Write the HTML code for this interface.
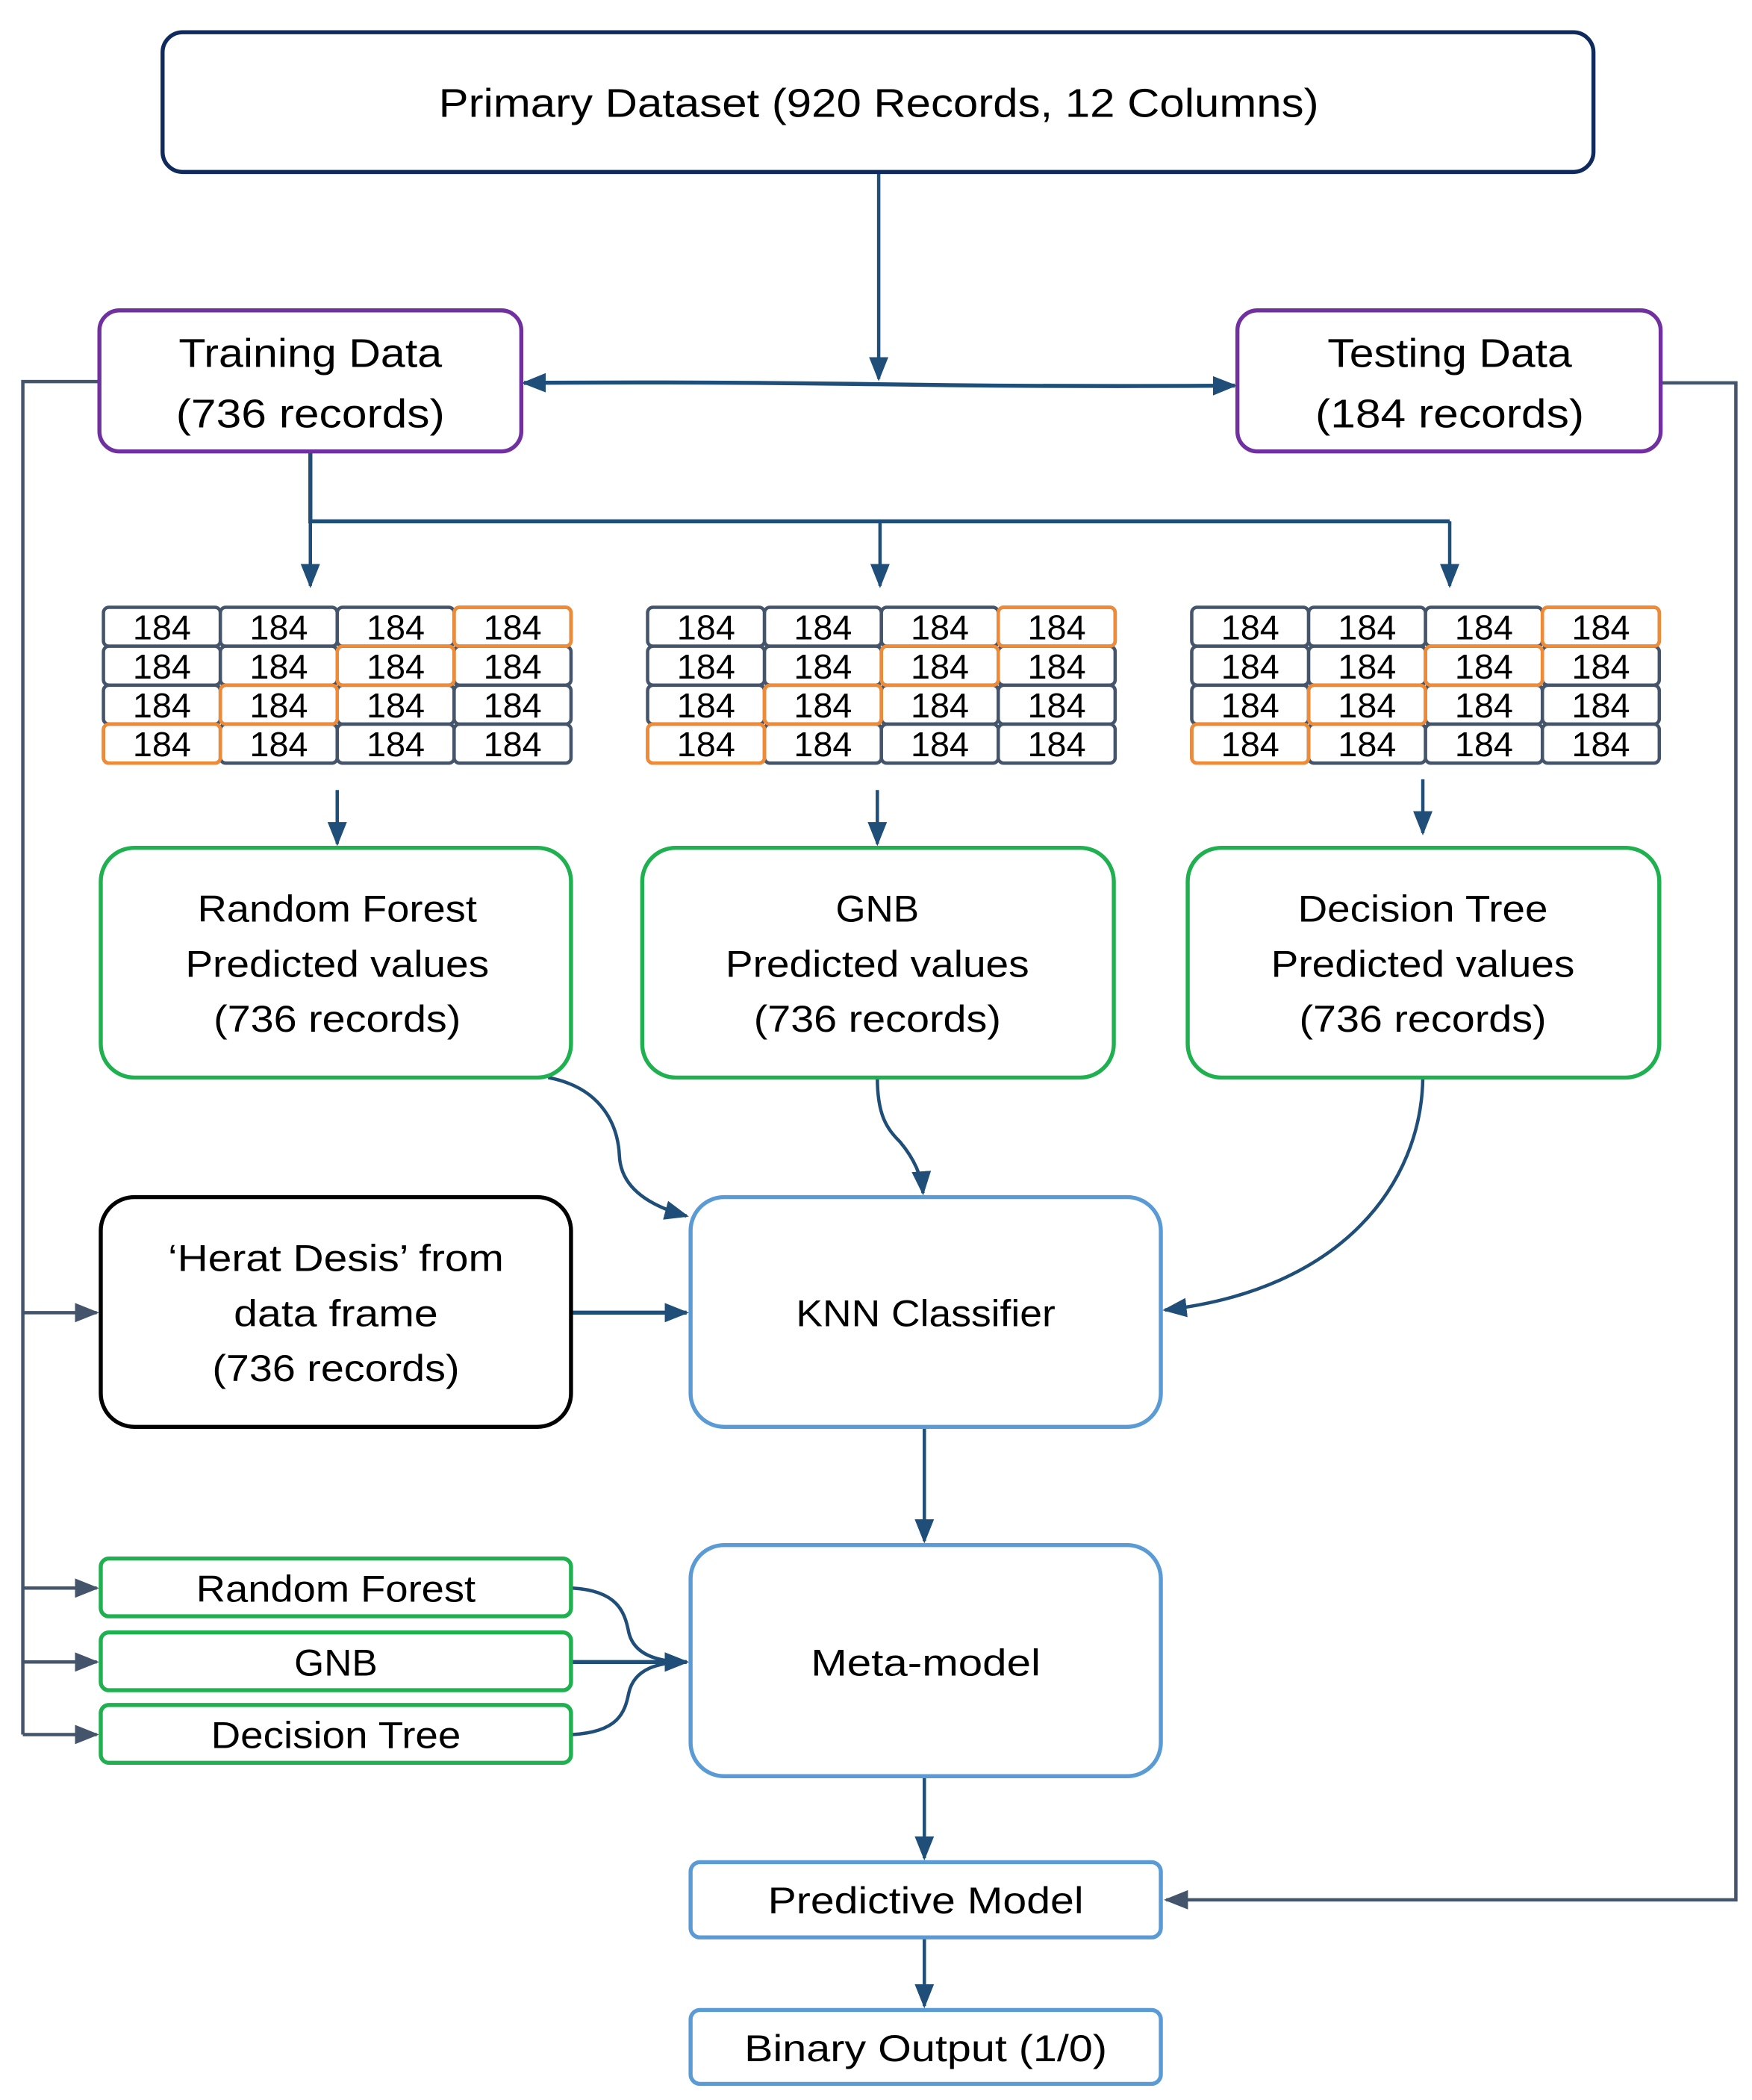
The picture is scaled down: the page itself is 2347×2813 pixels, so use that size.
<!DOCTYPE html>
<html><head><meta charset="utf-8"><style>html,body{margin:0;padding:0;background:#fff}svg{display:block}</style></head>
<body>
<svg width="2347" height="2813" viewBox="0 0 1304 1563" preserveAspectRatio="none" xmlns="http://www.w3.org/2000/svg" font-family="'Liberation Sans', sans-serif" fill="#000">
<defs>
<marker id="m" viewBox="0 0 10 10" refX="9" refY="5" markerWidth="18" markerHeight="18" orient="auto-start-reverse" markerUnits="userSpaceOnUse"><path d="M0,1 L10,5 L0,9 z" fill="#1f4e79"/></marker>
<marker id="g" viewBox="0 0 10 10" refX="9" refY="5" markerWidth="18" markerHeight="18" orient="auto-start-reverse" markerUnits="userSpaceOnUse"><path d="M0,1 L10,5 L0,9 z" fill="#44546a"/></marker>
</defs>
<g fill="none" stroke="#1f4e79" stroke-width="2.5">
<path d="M654,128 V282" marker-end="url(#m)"/>
<path d="M390,285 Q520,284 654,286 Q790,288 919,287" marker-start="url(#m)" marker-end="url(#m)" stroke-width="3"/>
<path d="M231,336 V388 H1079" stroke-width="3"/>
<path d="M231,388 V436" marker-end="url(#m)"/>
<path d="M655,388 V436" marker-end="url(#m)"/>
<path d="M1079,388 V436" marker-end="url(#m)"/>
<path d="M251,588 V628" marker-end="url(#m)"/>
<path d="M653,588 V628" marker-end="url(#m)"/>
<path d="M1059,580 V620" marker-end="url(#m)"/>
<path d="M408,802 C450,810 460,840 461,860 C462,885 485,898 511,905" marker-end="url(#m)"/>
<path d="M653,802 C653,830 660,840 670,850 C680,862 686,875 687,888" marker-end="url(#m)"/>
<path d="M1059,802 C1058,880 1000,960 867,975" marker-end="url(#m)"/>
<path d="M426,977 H511" marker-end="url(#m)" stroke-width="3"/>
<path d="M688,1062 V1147" marker-end="url(#m)"/>
<path d="M426,1182 C460,1184 465,1200 468,1215 C472,1232 490,1237 511,1237" marker-end="url(#m)"/>
<path d="M426,1237 H511" marker-end="url(#m)" stroke-width="3"/>
<path d="M426,1291 C460,1289 465,1275 468,1260 C472,1242 490,1237 511,1237"/>
<path d="M688,1322 V1383" marker-end="url(#m)"/>
<path d="M688,1442 V1493" marker-end="url(#m)"/>
</g>
<g fill="none" stroke="#44546a" stroke-width="2.5">
<path d="M74,284 H17 V1291"/>
<path d="M17,977 H72" marker-end="url(#g)"/>
<path d="M17,1182 H72" marker-end="url(#g)"/>
<path d="M17,1237 H72" marker-end="url(#g)"/>
<path d="M17,1291 H72" marker-end="url(#g)"/>
<path d="M1236,285 H1292 V1414 H868" marker-end="url(#g)"/>
</g>
<g fill="#fff" stroke-width="3">
<rect x="121" y="24" width="1065" height="104" rx="15" stroke="#0f2a5c"/>
<rect x="74" y="231" width="314" height="105" rx="15" stroke="#7030a0"/>
<rect x="921" y="231" width="315" height="105" rx="15" stroke="#7030a0"/>
<rect x="75" y="631" width="350" height="171" rx="25" stroke="#1fb04f"/>
<rect x="478" y="631" width="351" height="171" rx="25" stroke="#1fb04f"/>
<rect x="884" y="631" width="351" height="171" rx="25" stroke="#1fb04f"/>
<rect x="75" y="891" width="350" height="171" rx="25" stroke="#000"/>
<rect x="514" y="891" width="350" height="171" rx="25" stroke="#5b9bd5"/>
<rect x="75" y="1160" width="350" height="43" rx="6" stroke="#1fb04f"/>
<rect x="75" y="1215" width="350" height="43" rx="6" stroke="#1fb04f"/>
<rect x="75" y="1269" width="350" height="43" rx="6" stroke="#1fb04f"/>
<rect x="514" y="1150" width="350" height="172" rx="25" stroke="#5b9bd5"/>
<rect x="514" y="1386" width="350" height="56" rx="7" stroke="#5b9bd5"/>
<rect x="514" y="1496" width="350" height="55" rx="7" stroke="#5b9bd5"/>
</g>
<g font-size="30" text-anchor="middle">
<text x="654" y="87" textLength="655" lengthAdjust="spacingAndGlyphs">Primary Dataset (920 Records, 12 Columns)</text>
<text x="231" y="273" textLength="196" lengthAdjust="spacingAndGlyphs">Training Data</text>
<text x="231" y="318" textLength="200" lengthAdjust="spacingAndGlyphs">(736 records)</text>
<text x="1079" y="273" textLength="182" lengthAdjust="spacingAndGlyphs">Testing Data</text>
<text x="1079" y="318" textLength="200" lengthAdjust="spacingAndGlyphs">(184 records)</text>
<g font-size="28">
<text x="251" y="686" textLength="208" lengthAdjust="spacingAndGlyphs">Random Forest</text>
<text x="251" y="727" textLength="226" lengthAdjust="spacingAndGlyphs">Predicted values</text>
<text x="251" y="768" textLength="184" lengthAdjust="spacingAndGlyphs">(736 records)</text>
<text x="653" y="686" textLength="62" lengthAdjust="spacingAndGlyphs">GNB</text>
<text x="653" y="727" textLength="226" lengthAdjust="spacingAndGlyphs">Predicted values</text>
<text x="653" y="768" textLength="184" lengthAdjust="spacingAndGlyphs">(736 records)</text>
<text x="1059" y="686" textLength="186" lengthAdjust="spacingAndGlyphs">Decision Tree</text>
<text x="1059" y="727" textLength="226" lengthAdjust="spacingAndGlyphs">Predicted values</text>
<text x="1059" y="768" textLength="184" lengthAdjust="spacingAndGlyphs">(736 records)</text>
<text x="250" y="946" textLength="250" lengthAdjust="spacingAndGlyphs">‘Herat Desis’ from</text>
<text x="250" y="987" textLength="152" lengthAdjust="spacingAndGlyphs">data frame</text>
<text x="250" y="1028" textLength="184" lengthAdjust="spacingAndGlyphs">(736 records)</text>
<text x="689" y="987" textLength="193" lengthAdjust="spacingAndGlyphs">KNN Classifier</text>
<text x="250" y="1192" textLength="208" lengthAdjust="spacingAndGlyphs">Random Forest</text>
<text x="250" y="1247" textLength="62" lengthAdjust="spacingAndGlyphs">GNB</text>
<text x="250" y="1301" textLength="186" lengthAdjust="spacingAndGlyphs">Decision Tree</text>
<text x="689" y="1247" textLength="171" lengthAdjust="spacingAndGlyphs">Meta-model</text>
<text x="689" y="1424" textLength="235" lengthAdjust="spacingAndGlyphs">Predictive Model</text>
<text x="689" y="1534" textLength="270" lengthAdjust="spacingAndGlyphs">Binary Output (1/0)</text>
</g>
</g>
<g font-size="26" text-anchor="middle">
<g transform="translate(77,452)">
<g fill="#fff" stroke="#44546a" stroke-width="2.5">
<rect x="0" y="0" width="87" height="29" rx="4"/><rect x="87" y="0" width="87" height="29" rx="4"/><rect x="174" y="0" width="87" height="29" rx="4"/><rect x="261" y="0" width="87" height="29" rx="4"/>
<rect x="0" y="29" width="87" height="29" rx="4"/><rect x="87" y="29" width="87" height="29" rx="4"/><rect x="174" y="29" width="87" height="29" rx="4"/><rect x="261" y="29" width="87" height="29" rx="4"/>
<rect x="0" y="58" width="87" height="29" rx="4"/><rect x="87" y="58" width="87" height="29" rx="4"/><rect x="174" y="58" width="87" height="29" rx="4"/><rect x="261" y="58" width="87" height="29" rx="4"/>
<rect x="0" y="87" width="87" height="29" rx="4"/><rect x="87" y="87" width="87" height="29" rx="4"/><rect x="174" y="87" width="87" height="29" rx="4"/><rect x="261" y="87" width="87" height="29" rx="4"/>
</g>
<g fill="none" stroke="#f08a35" stroke-width="2.5">
<rect x="261" y="0" width="87" height="29" rx="4"/><rect x="174" y="29" width="87" height="29" rx="4"/><rect x="87" y="58" width="87" height="29" rx="4"/><rect x="0" y="87" width="87" height="29" rx="4"/>
</g>
<text x="43.5" y="24">184</text><text x="130.5" y="24">184</text><text x="217.5" y="24">184</text><text x="304.5" y="24">184</text>
<text x="43.5" y="53">184</text><text x="130.5" y="53">184</text><text x="217.5" y="53">184</text><text x="304.5" y="53">184</text>
<text x="43.5" y="82">184</text><text x="130.5" y="82">184</text><text x="217.5" y="82">184</text><text x="304.5" y="82">184</text>
<text x="43.5" y="111">184</text><text x="130.5" y="111">184</text><text x="217.5" y="111">184</text><text x="304.5" y="111">184</text>
</g>
<g transform="translate(482,452)">
<g fill="#fff" stroke="#44546a" stroke-width="2.5">
<rect x="0" y="0" width="87" height="29" rx="4"/><rect x="87" y="0" width="87" height="29" rx="4"/><rect x="174" y="0" width="87" height="29" rx="4"/><rect x="261" y="0" width="87" height="29" rx="4"/>
<rect x="0" y="29" width="87" height="29" rx="4"/><rect x="87" y="29" width="87" height="29" rx="4"/><rect x="174" y="29" width="87" height="29" rx="4"/><rect x="261" y="29" width="87" height="29" rx="4"/>
<rect x="0" y="58" width="87" height="29" rx="4"/><rect x="87" y="58" width="87" height="29" rx="4"/><rect x="174" y="58" width="87" height="29" rx="4"/><rect x="261" y="58" width="87" height="29" rx="4"/>
<rect x="0" y="87" width="87" height="29" rx="4"/><rect x="87" y="87" width="87" height="29" rx="4"/><rect x="174" y="87" width="87" height="29" rx="4"/><rect x="261" y="87" width="87" height="29" rx="4"/>
</g>
<g fill="none" stroke="#f08a35" stroke-width="2.5">
<rect x="261" y="0" width="87" height="29" rx="4"/><rect x="174" y="29" width="87" height="29" rx="4"/><rect x="87" y="58" width="87" height="29" rx="4"/><rect x="0" y="87" width="87" height="29" rx="4"/>
</g>
<text x="43.5" y="24">184</text><text x="130.5" y="24">184</text><text x="217.5" y="24">184</text><text x="304.5" y="24">184</text>
<text x="43.5" y="53">184</text><text x="130.5" y="53">184</text><text x="217.5" y="53">184</text><text x="304.5" y="53">184</text>
<text x="43.5" y="82">184</text><text x="130.5" y="82">184</text><text x="217.5" y="82">184</text><text x="304.5" y="82">184</text>
<text x="43.5" y="111">184</text><text x="130.5" y="111">184</text><text x="217.5" y="111">184</text><text x="304.5" y="111">184</text>
</g>
<g transform="translate(887,452)">
<g fill="#fff" stroke="#44546a" stroke-width="2.5">
<rect x="0" y="0" width="87" height="29" rx="4"/><rect x="87" y="0" width="87" height="29" rx="4"/><rect x="174" y="0" width="87" height="29" rx="4"/><rect x="261" y="0" width="87" height="29" rx="4"/>
<rect x="0" y="29" width="87" height="29" rx="4"/><rect x="87" y="29" width="87" height="29" rx="4"/><rect x="174" y="29" width="87" height="29" rx="4"/><rect x="261" y="29" width="87" height="29" rx="4"/>
<rect x="0" y="58" width="87" height="29" rx="4"/><rect x="87" y="58" width="87" height="29" rx="4"/><rect x="174" y="58" width="87" height="29" rx="4"/><rect x="261" y="58" width="87" height="29" rx="4"/>
<rect x="0" y="87" width="87" height="29" rx="4"/><rect x="87" y="87" width="87" height="29" rx="4"/><rect x="174" y="87" width="87" height="29" rx="4"/><rect x="261" y="87" width="87" height="29" rx="4"/>
</g>
<g fill="none" stroke="#f08a35" stroke-width="2.5">
<rect x="261" y="0" width="87" height="29" rx="4"/><rect x="174" y="29" width="87" height="29" rx="4"/><rect x="87" y="58" width="87" height="29" rx="4"/><rect x="0" y="87" width="87" height="29" rx="4"/>
</g>
<text x="43.5" y="24">184</text><text x="130.5" y="24">184</text><text x="217.5" y="24">184</text><text x="304.5" y="24">184</text>
<text x="43.5" y="53">184</text><text x="130.5" y="53">184</text><text x="217.5" y="53">184</text><text x="304.5" y="53">184</text>
<text x="43.5" y="82">184</text><text x="130.5" y="82">184</text><text x="217.5" y="82">184</text><text x="304.5" y="82">184</text>
<text x="43.5" y="111">184</text><text x="130.5" y="111">184</text><text x="217.5" y="111">184</text><text x="304.5" y="111">184</text>
</g>
</g>
</svg>
</body></html>
